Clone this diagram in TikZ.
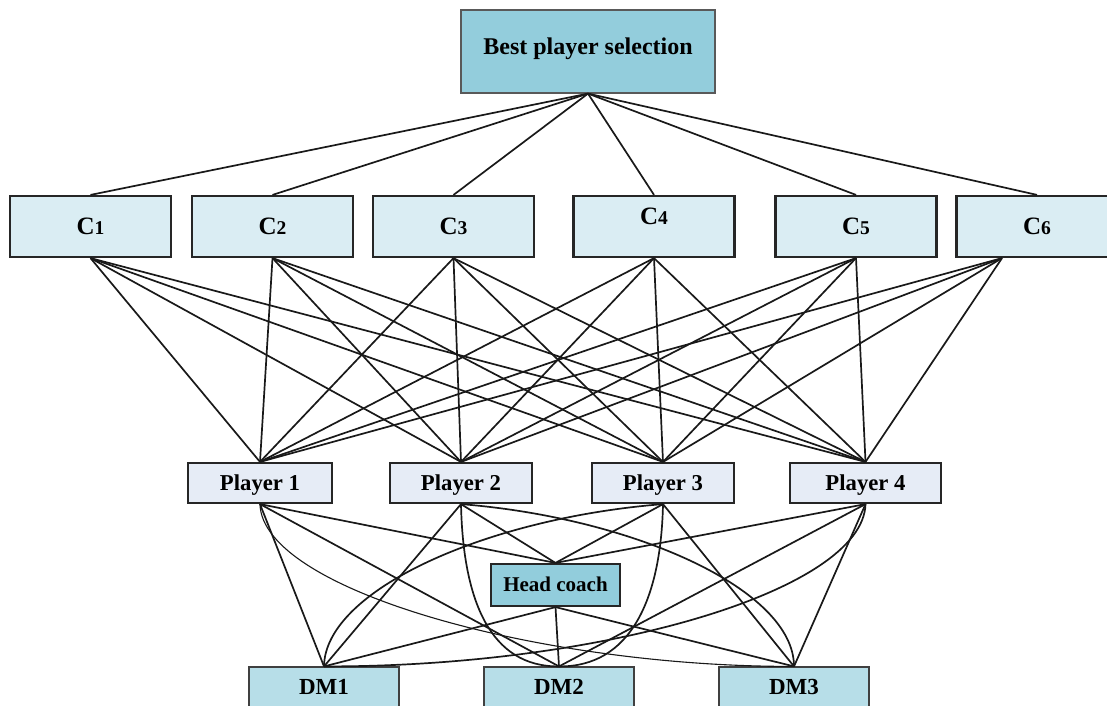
\documentclass[tikz,border=0pt]{standalone}
\usepackage{fontspec}
\setmainfont{Liberation Serif}
\usetikzlibrary{calc}
\definecolor{topc}{HTML}{93CDDC}
\definecolor{cfill}{HTML}{DAEDF3}
\definecolor{pfill}{HTML}{E6ECF6}
\definecolor{hcfill}{HTML}{92CDDC}
\definecolor{dmfill}{HTML}{B7DEE8}
\begin{document}
\begin{tikzpicture}[x=1pt,y=-1pt,
  box/.style={draw=black!85, inner sep=0pt},
  topbox/.style={box, fill=topc, draw=black!65, line width=1.2pt, minimum width=254, minimum height=83,
    font=\fontsize{24}{26}\selectfont\bfseries, text height=16pt, text depth=11pt},
  cbox/.style={box, fill=cfill, line width=2.2pt, minimum width=161, minimum height=61,
    font=\fontsize{25}{27}\selectfont\bfseries, text height=16.5pt, text depth=0pt},
  pbox/.style={box, fill=pfill, line width=2.2pt, minimum height=40,
    font=\fontsize{22.7}{24}\selectfont\bfseries, text height=15pt, text depth=0pt},
  hcbox/.style={box, fill=hcfill, line width=2.2pt, minimum width=129, minimum height=42,
    font=\fontsize{21}{23}\selectfont\bfseries, text height=13.9pt, text depth=0pt},
  dmbox/.style={box, fill=dmfill, draw=black!75, line width=1.2pt, minimum width=150, minimum height=40,
    font=\fontsize{23}{25}\selectfont\bfseries, text height=15.2pt, text depth=0pt},
  link/.style={line width=1.7pt, draw=black!90},
  thinlink/.style={line width=1.1pt, draw=black!90},
]
\useasboundingbox (0,0) rectangle (1107,705);
\newcommand{\dg}[1]{{\fontsize{19.5}{21}\selectfont #1}}

% nodes
\node[topbox] (T) at (588,51.5) {Best player selection};

\node[cbox] (C1) at (90.5,226.5) {C\dg{1}};
\node[cbox] (C2) at (272.5,226.5) {C\dg{2}};
\node[cbox] (C3) at (453.5,226.5) {C\dg{3}};
\node[cbox, text depth=20pt] (C4) at (654,226.5) {C\dg{4}};
\node[cbox] (C5) at (856,226.5) {C\dg{5}};
\node[cbox] (C6) at (1037,226.5) {C\dg{6}};
\coordinate (c6b) at ($(C6.south)+(-35,0)$);

\node[pbox, minimum width=144] (P1) at (260,483) {Player 1};
\node[pbox, minimum width=142] (P2) at (461,483) {Player 2};
\node[pbox, minimum width=142] (P3) at (663,483) {Player 3};
\node[pbox, minimum width=151] (P4) at (865.5,483) {Player 4};

\node[hcbox] (HC) at (555.5,585) {Head coach};

\node[dmbox] (DM1) at (324,687) {DM1};
\node[dmbox] (DM2) at (559,687) {DM2};
\node[dmbox] (DM3) at (794,687) {DM3};

% top level links
\foreach \c in {C1,C2,C3,C4,C5,C6}
  \draw[link] (T.south) -- (\c.north);

% criteria to players
\foreach \c in {C1,C2,C3,C4,C5}
  \foreach \p in {P1,P2,P3,P4}
    \draw[link] (\c.south) -- (\p.north);
\foreach \p in {P1,P2,P3,P4}
  \draw[link] (c6b) -- (\p.north);

% players to head coach
\foreach \p in {P1,P2,P3,P4}
  \draw[link] (\p.south) -- (HC.north);

% players to decision makers
\draw[link] (P1.south) -- (DM1.north);
\draw[link] (P1.south) -- (DM2.north);
\draw[thinlink] (P1.south) .. controls (262,590) and (540,667) .. (DM3.north);

\draw[link] (P2.south) -- (DM1.north);
\draw[link] (P2.south) .. controls (463,600) and (490,667) .. (DM2.north);
\draw[link] (P2.south) .. controls (635,518) and (794,590) .. (DM3.north);

\draw[link] (P3.south) .. controls (487,518) and (325,590) .. (DM1.north);
\draw[link] (P3.south) .. controls (661,600) and (630,667) .. (DM2.north);
\draw[link] (P3.south) -- (DM3.north);

\draw[link] (P4.south) .. controls (863,590) and (605,667) .. (DM1.north);
\draw[link] (P4.south) -- (DM2.north);
\draw[link] (P4.south) -- (DM3.north);

% head coach to decision makers
\foreach \d in {DM1,DM2,DM3}
  \draw[link] (HC.south) -- (\d.north);
\end{tikzpicture}
\end{document}
